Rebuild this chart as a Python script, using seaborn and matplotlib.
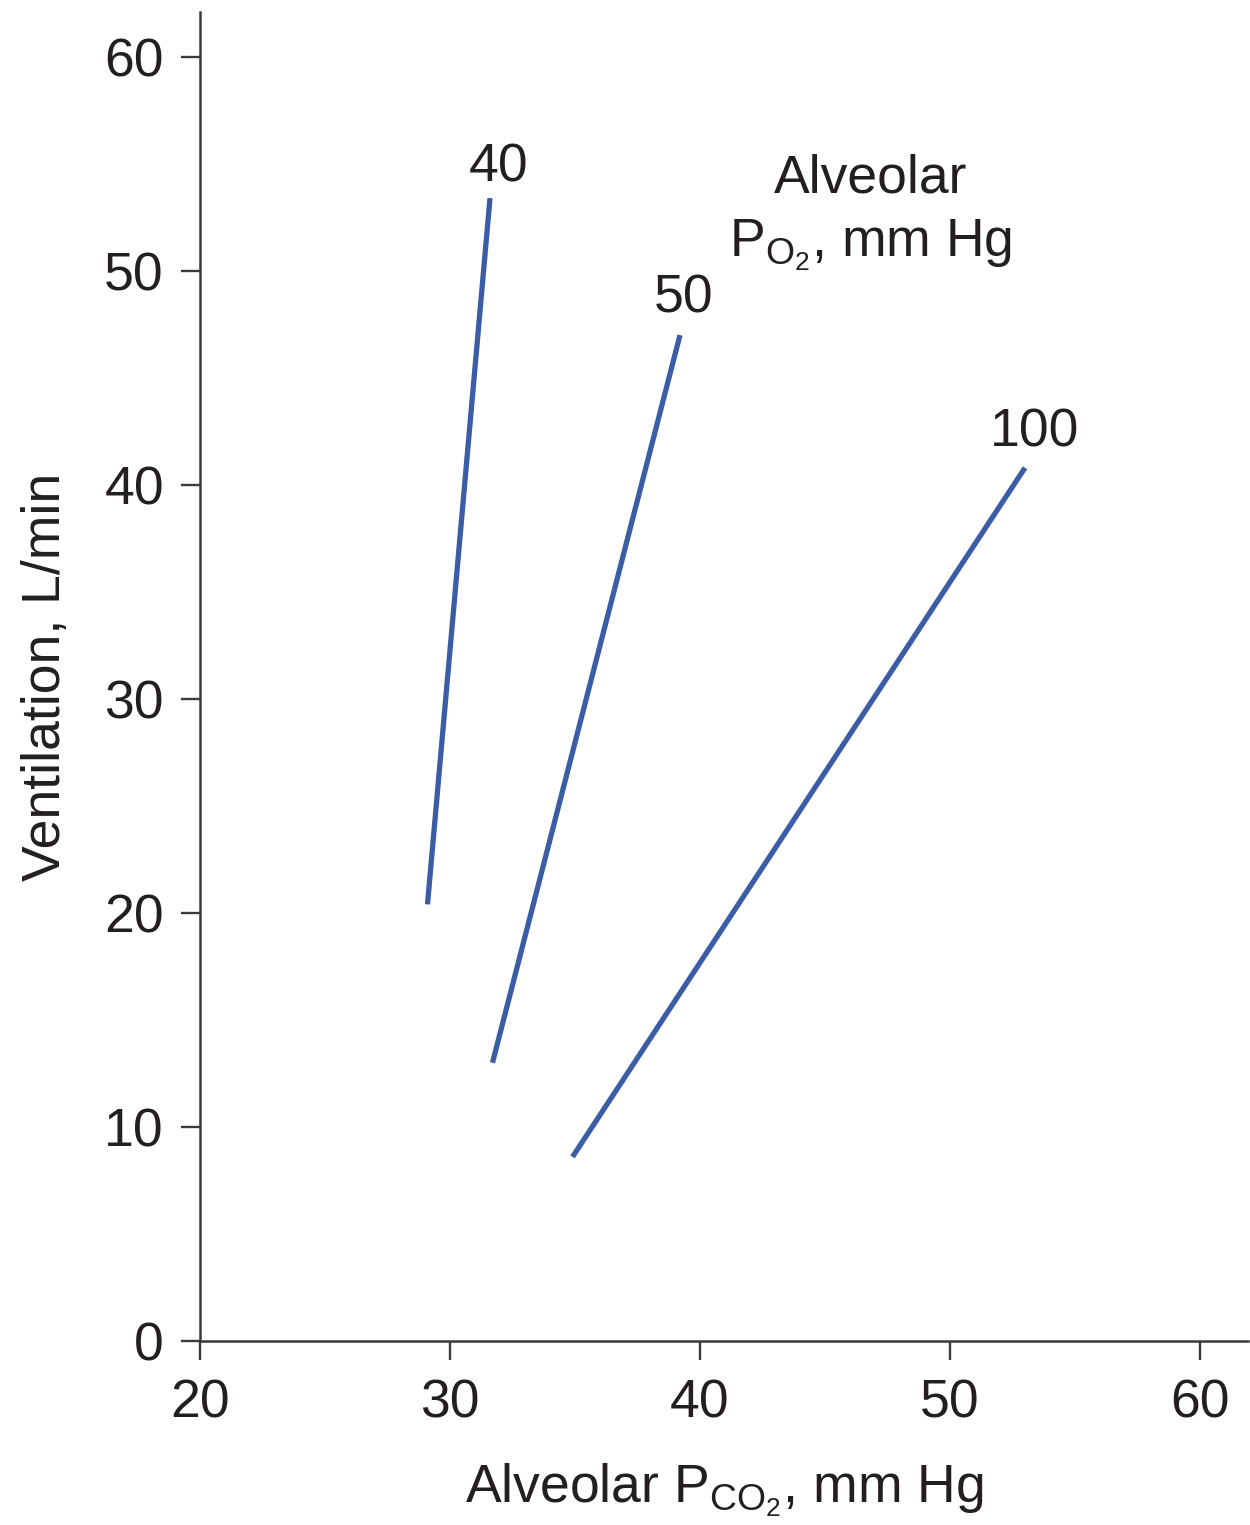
import matplotlib
matplotlib.use("Agg")
import matplotlib.pyplot as plt
import seaborn as sns
import pandas as pd

# Data
po2_levels = ["40", "50", "100"]
pco2_40 = [29.1, 31.6]
vent_40 = [20.4, 53.4]
pco2_50 = [31.7, 39.2]
vent_50 = [13.0, 47.0]
pco2_100 = [34.9, 53.0]
vent_100 = [8.6, 40.8]

label_x = [31.96, 39.36, 53.4]
label_y = [54.16, 48.04, 41.78]

xticks = [20, 30, 40, 50, 60]
yticks = [0, 10, 20, 30, 40, 50, 60]

rows = []
for lvl, xs, ys in zip(po2_levels, [pco2_40, pco2_50, pco2_100], [vent_40, vent_50, vent_100]):
    for xv, yv in zip(xs, ys):
        rows.append({"PO2": lvl, "PCO2": xv, "Vent": yv})
df = pd.DataFrame(rows)

sns.set_theme(style="ticks")
plt.rcParams["font.family"] = ["Liberation Sans", "DejaVu Sans"]
plt.rcParams["mathtext.fontset"] = "custom"
plt.rcParams["mathtext.rm"] = "Liberation Sans"
plt.rcParams["mathtext.it"] = "Liberation Sans"
plt.rcParams["mathtext.default"] = "regular"

text_color = "#231f20"
axis_color = "#3a3a3a"
line_color = "#3a5da6"
fs = 38.5

fig = plt.figure(figsize=(12.5, 15.25), dpi=100)
ax = fig.add_axes([0.16, 0.1207, 0.8384, 0.8715])

sns.lineplot(data=df, x="PCO2", y="Vent", hue="PO2", units="PO2", estimator=None,
             palette=[line_color] * 3, legend=False, linewidth=3.8, ax=ax,
             solid_capstyle="butt")

ax.set_xlim(20, 61.92)
ax.set_ylim(0, 62.1)
ax.set_xticks(xticks)
ax.set_yticks(yticks)
ax.set_xticklabels([str(t) for t in xticks])
ax.set_yticklabels([str(t) for t in yticks])

for s in ["top", "right"]:
    ax.spines[s].set_visible(False)
for s in ["left", "bottom"]:
    ax.spines[s].set_color(axis_color)
    ax.spines[s].set_linewidth(1.8)

ax.tick_params(axis="both", direction="out", length=14, width=1.7, color=axis_color,
               labelsize=fs, labelcolor=text_color)
ax.tick_params(axis="y", pad=12)
ax.tick_params(axis="x", pad=13)

ax.set_xlabel(r"Alveolar P$_{CO_2}$, mm Hg", fontsize=fs, color=text_color, labelpad=24)
ax.set_ylabel("Ventilation, L/min", fontsize=fs, color=text_color, labelpad=24)

for lbl, lx, ly in zip(po2_levels, label_x, label_y):
    ax.text(lx, ly, lbl, fontsize=fs, color=text_color, ha="center", va="baseline")

ax.text(46.84, 53.64, "Alveolar", fontsize=fs, color=text_color, ha="center", va="baseline")
ax.text(46.84, 50.65, r"P$_{O_2}$, mm Hg", fontsize=fs, color=text_color, ha="center", va="baseline")

fig.savefig("out.png", dpi=100, facecolor="white")
